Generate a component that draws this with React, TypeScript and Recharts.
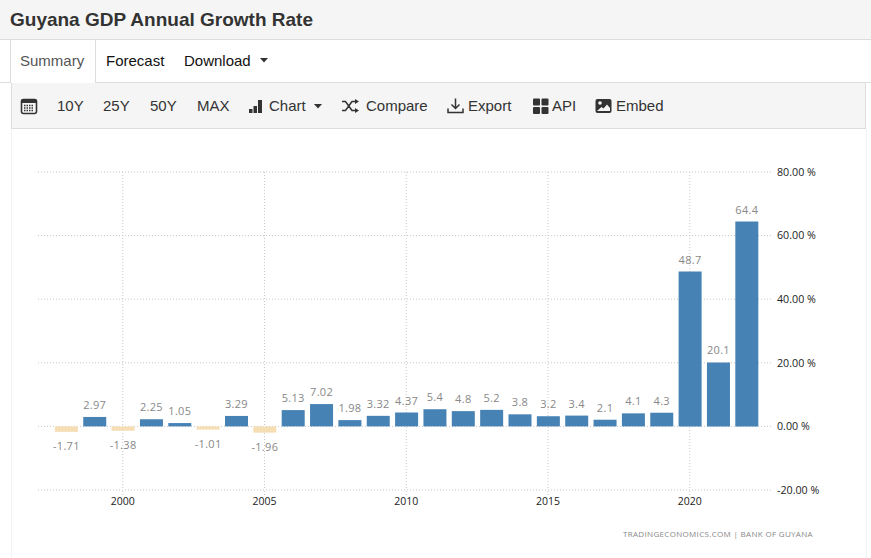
import { BarChart, Bar, Cell, XAxis, YAxis, CartesianGrid, LabelList } from "recharts";

const YEARS = [1998, 1999, 2000, 2001, 2002, 2003, 2004, 2005, 2006, 2007, 2008, 2009, 2010, 2011, 2012, 2013, 2014, 2015, 2016, 2017, 2018, 2019, 2020, 2021, 2022];
const GROWTH = [-1.71, 2.97, -1.38, 2.25, 1.05, -1.01, 3.29, -1.96, 5.13, 7.02, 1.98, 3.32, 4.37, 5.4, 4.8, 5.2, 3.8, 3.2, 3.4, 2.1, 4.1, 4.3, 48.7, 20.1, 64.4];
const YEAR_TICKS = [2000, 2005, 2010, 2015, 2020];
const PCT_TICKS = [-20, 0, 20, 40, 60, 80];
const TOOLBAR_TEXT: [string, number][] = [["10Y", 57], ["25Y", 103], ["50Y", 150], ["MAX", 197], ["Chart", 269], ["Compare", 366], ["Export", 468], ["API", 552], ["Embed", 616]];

const rows = YEARS.map((year, i) => ({ year, value: GROWTH[i] }));

const CHART_FONT = "'Open Sans', sans-serif";
const UI_FONT = "'Liberation Sans', Arial, sans-serif";

function ValueLabel(props: any) {
  const { x, y, width, height, value } = props;
  const top = Math.min(y, y + height);
  const bottom = Math.max(y, y + height);
  return (
    <text
      x={x + width / 2}
      y={value < 0 ? bottom + 18 : top - 8}
      textAnchor="middle"
      fontSize={11}
      letterSpacing={0.3}
      fontFamily={CHART_FONT}
      fill="#888888"
    >
      {value}
    </text>
  );
}

function Caret({ x, y }: { x: number; y: number }) {
  return (
    <svg style={{ position: "absolute", left: x, top: y }} width={9} height={5}>
      <path d="M0 0H8L4 4.5Z" fill="#333" />
    </svg>
  );
}

function Icon({ x, y, children }: { x: number; y: number; children: React.ReactNode }) {
  return (
    <svg style={{ position: "absolute", left: x, top: y }} width={18} height={18} viewBox="0 0 18 18">
      {children}
    </svg>
  );
}

function Header() {
  const label = (text: string, x: number, y: number, color = "#333") => (
    <span key={text} style={{ position: "absolute", left: x, top: y, fontSize: 15, lineHeight: "18px", color, whiteSpace: "nowrap" }}>
      {text}
    </span>
  );
  return (
    <div style={{ fontFamily: UI_FONT }}>
      <div style={{ position: "absolute", left: 0, top: 0, width: 871, height: 39, background: "#f5f5f5", borderBottom: "1px solid #ddd" }} />
      <span style={{ position: "absolute", left: 10, top: 9, fontSize: 19, lineHeight: "22px", fontWeight: "bold", color: "#333", whiteSpace: "nowrap" }}>
        Guyana GDP Annual Growth Rate
      </span>
      <div style={{ position: "absolute", left: 0, top: 82, width: 871, height: 1, background: "#ddd" }} />
      <div style={{ position: "absolute", left: 10, top: 40, width: 84, height: 43, background: "#fff", borderLeft: "1px solid #ddd", borderRight: "1px solid #ddd" }} />
      {label("Summary", 20, 52, "#555")}
      {label("Forecast", 106, 52, "#111")}
      {label("Download", 184, 52, "#111")}
      <Caret x={260} y={58} />
      <div style={{ position: "absolute", left: 11, top: 83, width: 853, height: 45, background: "#f5f5f5", border: "1px solid #ddd", borderTop: "none" }} />
      <div style={{ position: "absolute", left: 11, top: 129, width: 854, height: 429, borderLeft: "1px solid #f3f3f3", borderRight: "1px solid #f3f3f3" }} />
      {TOOLBAR_TEXT.map(([t, x]) => label(t, x, 97))}
      <Caret x={314} y={104} />
      <Icon x={20} y={97}>
        <rect x={1.5} y={2.5} width={15} height={14} rx={2} fill="none" stroke="#333" strokeWidth={1.6} />
        <rect x={1.5} y={2.5} width={15} height={3.5} fill="#333" />
        <path d="M4 8.5H14M4 11H14M4 13.5H14" stroke="#333" strokeWidth={1.4} strokeDasharray="1.5 1" />
      </Icon>
      <Icon x={248} y={97}>
        <rect x={1} y={12} width={3.5} height={4} fill="#333" />
        <rect x={5.5} y={9} width={3.5} height={7} fill="#333" />
        <rect x={10} y={3} width={4} height={13} fill="#333" />
      </Icon>
      <Icon x={341} y={97}>
        <path d="M1 4.5H4.5L11 13.5H14M1 13.5H4.5L11 4.5H14" fill="none" stroke="#333" strokeWidth={1.5} />
        <path d="M14 2L18 4.5L14 7ZM14 11L18 13.5L14 16Z" fill="#333" />
      </Icon>
      <Icon x={447} y={97}>
        <path d="M8.5 1.5V11M4.5 7.5L8.5 11.5L12.5 7.5M1 11.5V15.5H16V11.5" fill="none" stroke="#333" strokeWidth={1.5} />
      </Icon>
      <Icon x={532} y={98}>
        <rect x={1} y={0.5} width={7} height={7} rx={1} fill="#333" />
        <rect x={9.5} y={0.5} width={7} height={7} rx={1} fill="#333" />
        <rect x={1} y={9} width={7} height={7} rx={1} fill="#333" />
        <rect x={9.5} y={9} width={7} height={7} rx={1} fill="#333" />
      </Icon>
      <Icon x={595} y={98}>
        <rect x={0.5} y={1} width={16} height={14} rx={2} fill="#333" />
        <circle cx={5} cy={5} r={1.8} fill="#f5f5f5" />
        <path d="M2 13L6.5 9L8.5 10.5L12 6.5L15 10V13Z" fill="#f5f5f5" />
      </Icon>
    </div>
  );
}

export default function App() {
  return (
    <div style={{ position: "absolute", left: 0, top: 0, width: 871, height: 558, background: "#fff", overflow: "hidden" }}>
      <Header />
      <div style={{ position: "absolute", left: 0, top: 0 }}>
        <BarChart width={871} height={558} data={rows} margin={{ top: 172, right: 0, bottom: 0, left: 38 }}>
          <CartesianGrid stroke="#c8c8c8" strokeDasharray="1 2" syncWithTicks />
          <XAxis
            dataKey="year"
            type="number"
            domain={[1997.01, 2022.9]}
            ticks={YEAR_TICKS}
            height={68}
            axisLine={false}
            tickLine={{ stroke: "#c8c8c8", strokeDasharray: "1 2" }}
            tickSize={5}
            tickMargin={3}
            tick={{ fontSize: 10.5, fontFamily: CHART_FONT, fill: "#222" }}
          />
          <YAxis
            orientation="right"
            domain={[-20, 80]}
            ticks={PCT_TICKS}
            width={99}
            axisLine={false}
            tickLine={false}
            tickSize={0}
            tickMargin={5}
            tickFormatter={(v: number) => `${v.toFixed(2)} %`}
            tick={{ fontSize: 10.7, fontFamily: CHART_FONT, fill: "#222" }}
          />
          <Bar dataKey="value" barSize={23} isAnimationActive={false}>
            {rows.map((r) => (
              <Cell key={r.year} fill={r.value < 0 ? "#F5DEB3" : "#4682B4"} />
            ))}
            <LabelList dataKey="value" content={ValueLabel} />
          </Bar>
        </BarChart>
      </div>
      <span style={{ position: "absolute", left: 623, top: 528, fontFamily: CHART_FONT, fontSize: 8, lineHeight: "12px", letterSpacing: 0.32, color: "#888", whiteSpace: "nowrap" }}>
        TRADINGECONOMICS.COM | BANK OF GUYANA
      </span>
    </div>
  );
}
